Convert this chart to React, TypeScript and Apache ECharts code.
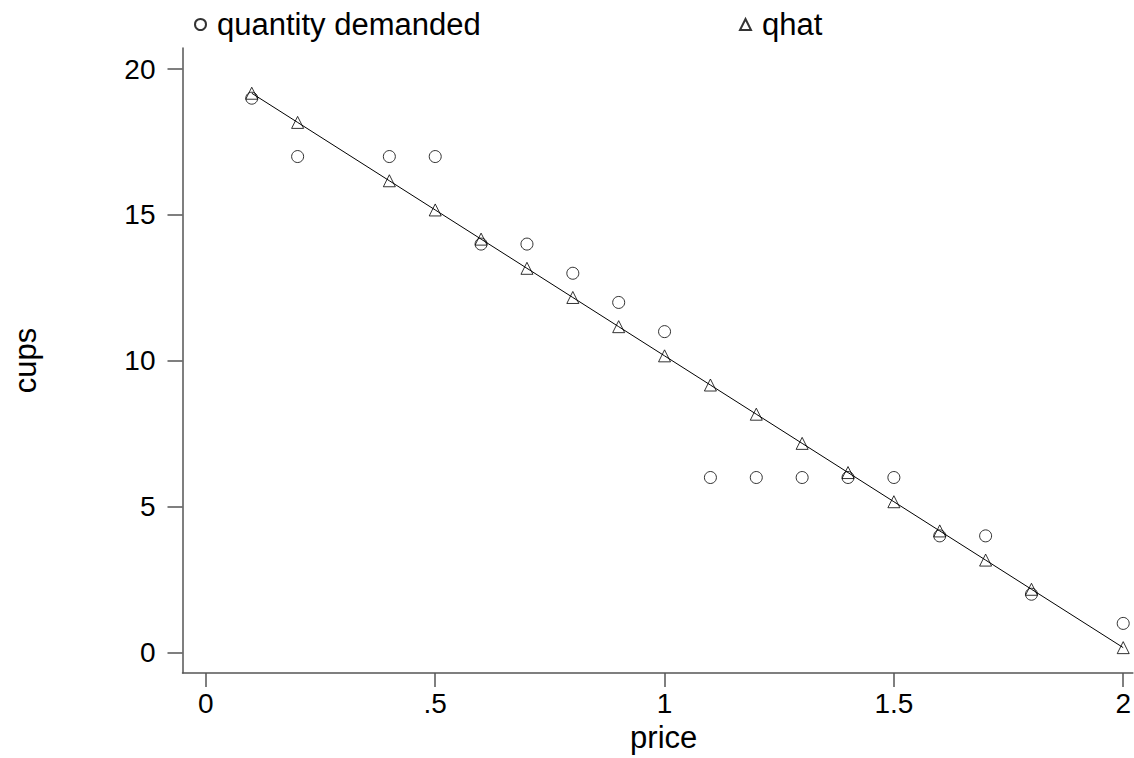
import React, { useEffect, useRef } from "react";
import * as echarts from "echarts";

const prices = [0.1, 0.2, 0.4, 0.5, 0.6, 0.7, 0.8, 0.9, 1.0, 1.1, 1.2, 1.3, 1.4, 1.5, 1.6, 1.7, 1.8, 2.0];
const quantityDemanded = [19, 17, 17, 17, 14, 14, 13, 12, 11, 6, 6, 6, 6, 6, 4, 4, 2, 1];
const qhat = [19.17, 18.17, 16.17, 15.17, 14.17, 13.17, 12.17, 11.17, 10.17, 9.17, 8.17, 7.17, 6.17, 5.17, 4.17, 3.17, 2.17, 0.17];
const xTicks = [0, 0.5, 1, 1.5, 2];
const xTickLabels = ["0", ".5", "1", "1.5", "2"];
const yTicks = [0, 5, 10, 15, 20];

const FONT = "'Liberation Sans', Arial, Helvetica, sans-serif";

export default function App() {
  const ref = useRef<HTMLDivElement>(null);
  useEffect(() => {
    if (!ref.current) return;
    const chart = echarts.init(ref.current, null, { renderer: "svg" });
    const qd = prices.map((p, i) => [p, quantityDemanded[i]]);
    const qh = prices.map((p, i) => [p, qhat[i]]);
    chart.setOption({
      animation: false,
      backgroundColor: "#ffffff",
      textStyle: { fontFamily: FONT, color: "#000" },
      grid: { left: 182.5, right: 0, top: 48, bottom: 70, containLabel: false },
      legend: [
        {
          data: ["quantity demanded"],
          left: 187.5,
          top: 4,
          itemWidth: 11,
          itemHeight: 11,
          textStyle: { fontSize: 31, fontFamily: FONT, color: "#000", padding: [0, 0, 0, 6] },
          selectedMode: false,
        },
        {
          data: ["qhat"],
          left: 732.5,
          top: 4,
          itemWidth: 11,
          itemHeight: 11,
          textStyle: { fontSize: 31, fontFamily: FONT, color: "#000", padding: [0, 0, 0, 6] },
          selectedMode: false,
        },
      ],
      xAxis: {
        type: "value",
        min: -0.051,
        max: 2.021,
        name: "price",
        nameLocation: "middle",
        nameGap: 36,
        nameTextStyle: { fontSize: 31, fontFamily: FONT, color: "#000", padding: [0, 0, 0, 12] },
        axisLine: { onZero: false, lineStyle: { color: "#555", width: 1.5 } },
        axisTick: { customValues: xTicks, length: 14, lineStyle: { color: "#555", width: 1.5 } },
        axisLabel: {
          customValues: xTicks,
          margin: 16,
          fontSize: 28,
          fontFamily: FONT,
          color: "#000",
          formatter: (v: number) => xTickLabels[xTicks.indexOf(v)] ?? String(v),
        },
        splitLine: { show: false },
      },
      yAxis: {
        type: "value",
        min: -0.703,
        max: 20.72,
        name: "cups",
        nameLocation: "middle",
        nameGap: 142,
        nameRotate: 90,
        nameTextStyle: { fontSize: 31, fontFamily: FONT, color: "#000" },
        axisLine: { onZero: false, lineStyle: { color: "#555", width: 1.5 } },
        axisTick: { customValues: yTicks, length: 15, lineStyle: { color: "#555", width: 1.5 } },
        axisLabel: {
          customValues: yTicks,
          margin: 27,
          fontSize: 28,
          fontFamily: FONT,
          color: "#000",
        },
        splitLine: { show: false },
      },
      series: [
        {
          name: "qhat line",
          type: "line",
          data: qh,
          showSymbol: false,
          symbol: "none",
          lineStyle: { color: "#000", width: 1 },
          silent: true,
          z: 1,
        },
        {
          name: "quantity demanded",
          type: "scatter",
          data: qd,
          symbol: "circle",
          symbolSize: 12,
          itemStyle: { color: "none", borderColor: "#000", borderWidth: 1 },
          z: 2,
        },
        {
          name: "qhat",
          type: "scatter",
          data: qh,
          symbol: "triangle",
          symbolSize: 12,
          itemStyle: { color: "none", borderColor: "#000", borderWidth: 1 },
          z: 3,
        },
      ],
    });
    return () => chart.dispose();
  }, []);
  return <div ref={ref} style={{ width: 1134, height: 758, position: "absolute", left: 0, top: 0 }} />;
}
